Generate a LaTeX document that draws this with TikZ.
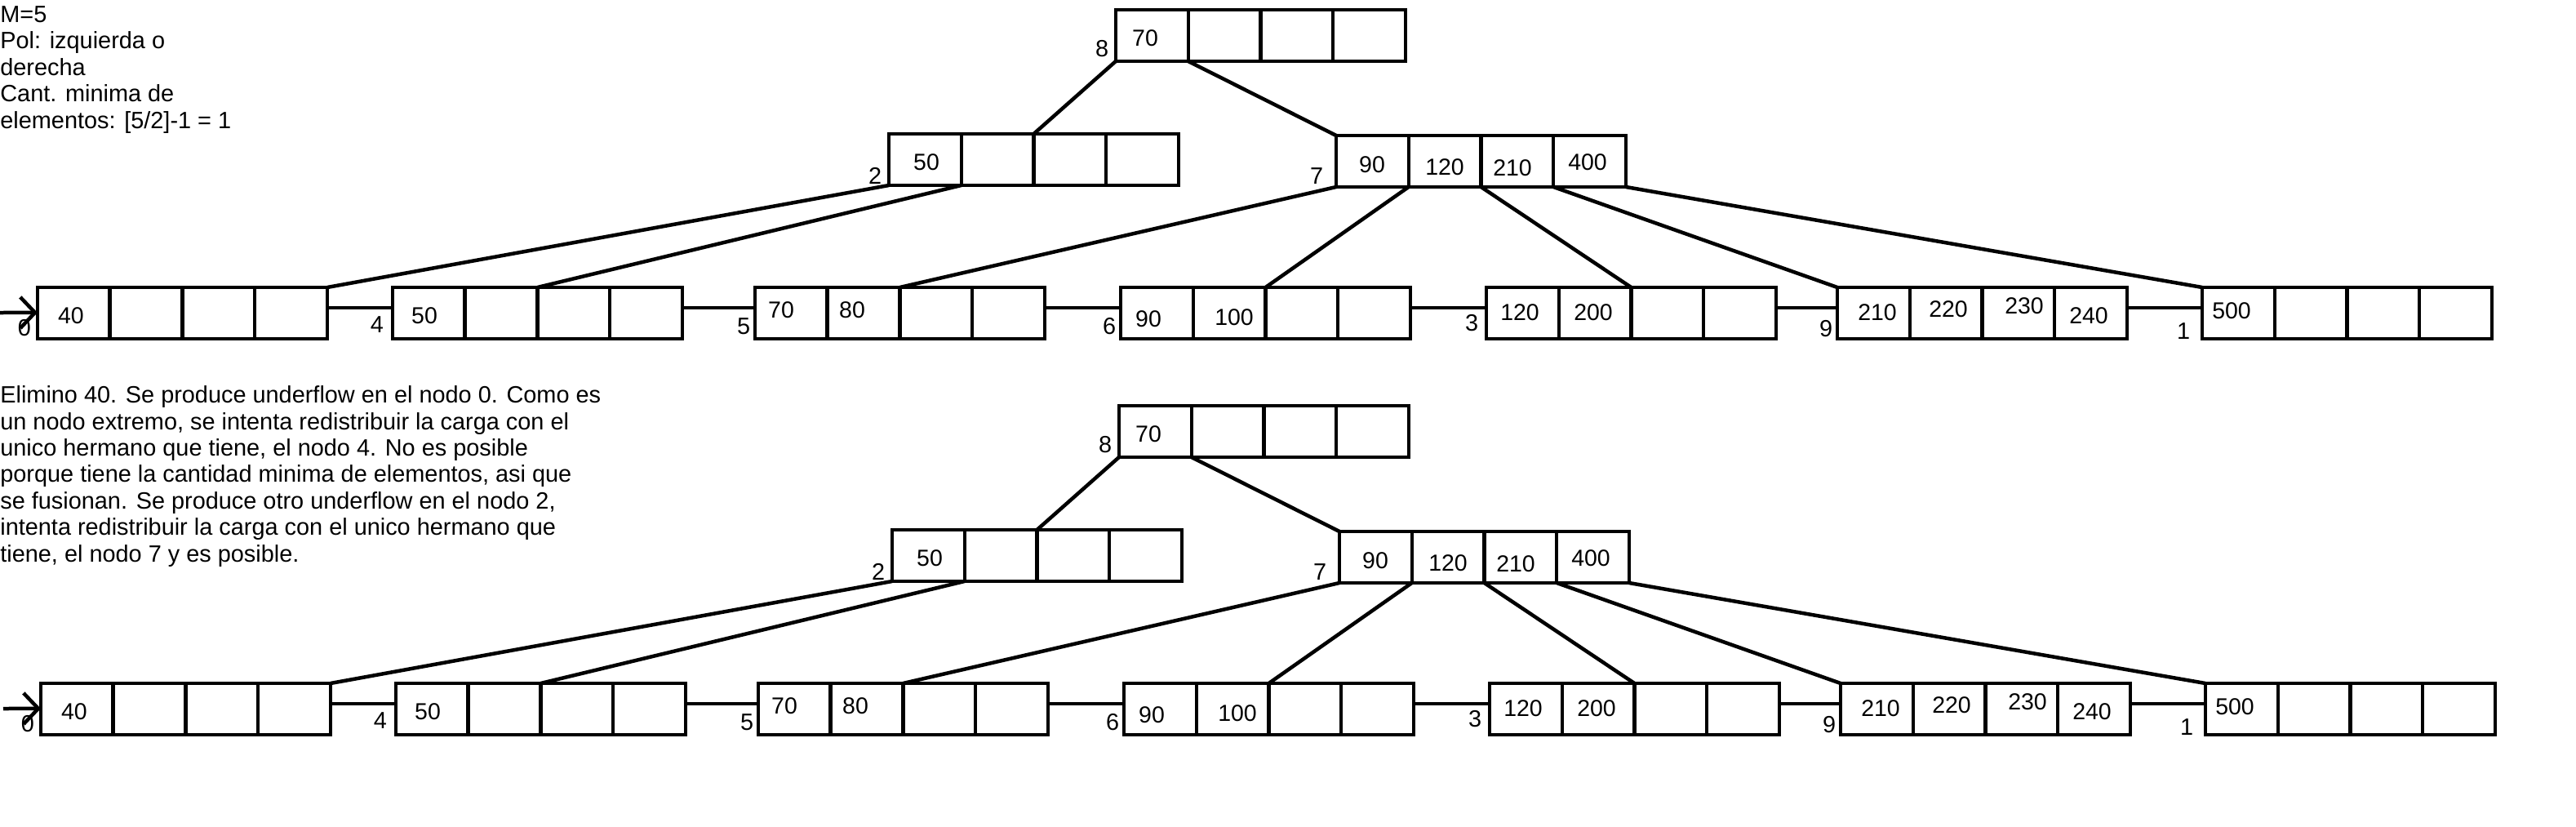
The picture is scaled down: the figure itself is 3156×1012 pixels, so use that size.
\documentclass[tikz,border=0pt]{standalone}
\usepackage{fontspec}
\setmainfont{Liberation Sans}
\usetikzlibrary{calc,arrows.meta}
\tikzset{
  ln/.style={line width=0.09cm, line cap=butt},
  bx/.style={draw, line width=0.09cm, minimum width=7.1cm, minimum height=1.26cm, anchor=north west, inner sep=0pt, outer sep=0pt},
  val/.style={inner sep=0pt, font=\fontsize{16.2pt}{18pt}\selectfont},
  lbl/.style={inner sep=0pt, font=\fontsize{16.4pt}{18pt}\selectfont},
  txt/.style={inner sep=0pt, align=left, anchor=base west, font=\fontsize{16.44pt}{18.42pt}\selectfont}
}
\newcommand\bbox[3]{%
  \node[bx] (#1) at (#2,#3) {};
  \foreach \k in {1,2,3}{\draw[ln] ($(#1.north west)!\k/4!(#1.north east)$) -- ($(#1.south west)!\k/4!(#1.south east)$);}
}
\newcommand\leaflink[2]{%
  \draw[ln] ($(#1.north east)!0.4!(#1.south east)$) -- ($(#2.north west)!0.4!(#2.south west)$);
}
\newcommand\drawtree[1]{%
  % boxes
  \bbox{#1r}{1367}{12}
  \bbox{#1n2}{1089}{164}
  \bbox{#1n7}{1637}{166}
  \bbox{#1l0}{46}{352}
  \bbox{#1l4}{481}{352}
  \bbox{#1l5}{925}{352}
  \bbox{#1l6}{1373}{352}
  \bbox{#1l3}{1821}{352}
  \bbox{#1l9}{2251}{352}
  \bbox{#1l1}{2698}{352}
  % node numbers
  \node[lbl] (#1k8) at (1350,60) {8};
  \node[lbl] (#1k2) at (1072,215) {2};
  \node[lbl] (#1k7) at (1613,216) {7};
  \node[lbl] (#1k0) at (30,402) {0};
  \node[lbl] (#1k4) at (462,398) {4};
  \node[lbl] (#1k5) at (911,400) {5};
  \node[lbl] (#1k6) at (1359,400) {6};
  \node[lbl] (#1k3) at (1803,396) {3};
  \node[lbl] (#1k9) at (2237,403) {9};
  \node[lbl] (#1k1) at (2675,406) {1};
  % values
  \node[val] (#1va) at (1403,47) {70};
  \node[val] (#1vb) at (1135,199) {50};
  \node[val] (#1vc) at (1681,202) {90};
  \node[val] (#1vd) at (1770,205) {120};
  \node[val] (#1ve) at (1853,206) {210};
  \node[val] (#1vf) at (1945,199) {400};
  \node[val] (#1vg) at (87,387) {40};
  \node[val] (#1vh) at (520,387) {50};
  \node[val] (#1vi) at (957,380) {70};
  \node[val] (#1vj) at (1044,380) {80};
  \node[val] (#1vk) at (1407,391) {90};
  \node[val] (#1vl) at (1512,389) {100};
  \node[val] (#1vm) at (1862,383) {120};
  \node[val] (#1vn) at (1952,383) {200};
  \node[val] (#1vo) at (2300,383) {210};
  \node[val] (#1vp) at (2387,379) {220};
  \node[val] (#1vq) at (2480,375) {230};
  \node[val] (#1vr) at (2559,387) {240};
  \node[val] (#1vs) at (2734,381) {500};
  % tree edges
  \draw[ln] (#1r.south west) -- (#1n2.north);
  \draw[ln] ($(#1r.south west)!0.25!(#1r.south east)$) -- (#1n7.north west);
  \draw[ln] (#1n2.south west) -- (#1l0.north east);
  \draw[ln] ($(#1n2.south west)!0.25!(#1n2.south east)$) -- (#1l4.north);
  \draw[ln] (#1n7.south west) -- (#1l5.north);
  \draw[ln] ($(#1n7.south west)!0.25!(#1n7.south east)$) -- (#1l6.north);
  \draw[ln] ($(#1n7.south west)!0.5!(#1n7.south east)$) -- (#1l3.north);
  \draw[ln] ($(#1n7.south west)!0.75!(#1n7.south east)$) -- (#1l9.north west);
  \draw[ln] (#1n7.south east) -- (#1l1.north west);
  % leaf links
  \leaflink{#1l0}{#1l4}
  \leaflink{#1l4}{#1l5}
  \leaflink{#1l5}{#1l6}
  \leaflink{#1l6}{#1l3}
  \leaflink{#1l3}{#1l9}
  \leaflink{#1l9}{#1l1}
  % entry arrow
  \coordinate (#1s) at (0,383);
  \draw[ln,-{Straight Barb[length=0.36cm,width=0.76cm,line width=0.09cm]}] (#1s) -- ($(#1l0.north west)!0.49!(#1l0.south west)$);
}
\begin{document}
\begin{tikzpicture}[x=0.02cm,y=-0.02cm]
\useasboundingbox[fill=white] (0,0) rectangle (3156,1012);
\node[txt] (info) at (0,157) {M=5\\Pol: izquierda o\\derecha\\Cant. minima de\\elementos: [5/2]-1 = 1};
\drawtree{A}
\node[txt] (expl) at (0,688) {Elimino 40. Se produce underflow en el nodo 0. Como es\\un nodo extremo, se intenta redistribuir la carga con el\\unico hermano que tiene, el nodo 4. No es posible\\porque tiene la cantidad minima de elementos, asi que\\se fusionan. Se produce otro underflow en el nodo 2,\\intenta redistribuir la carga con el unico hermano que\\tiene, el nodo 7 y es posible.};
\begin{scope}[shift={(4,485)}]
\drawtree{B}
\end{scope}
\end{tikzpicture}
\end{document}
